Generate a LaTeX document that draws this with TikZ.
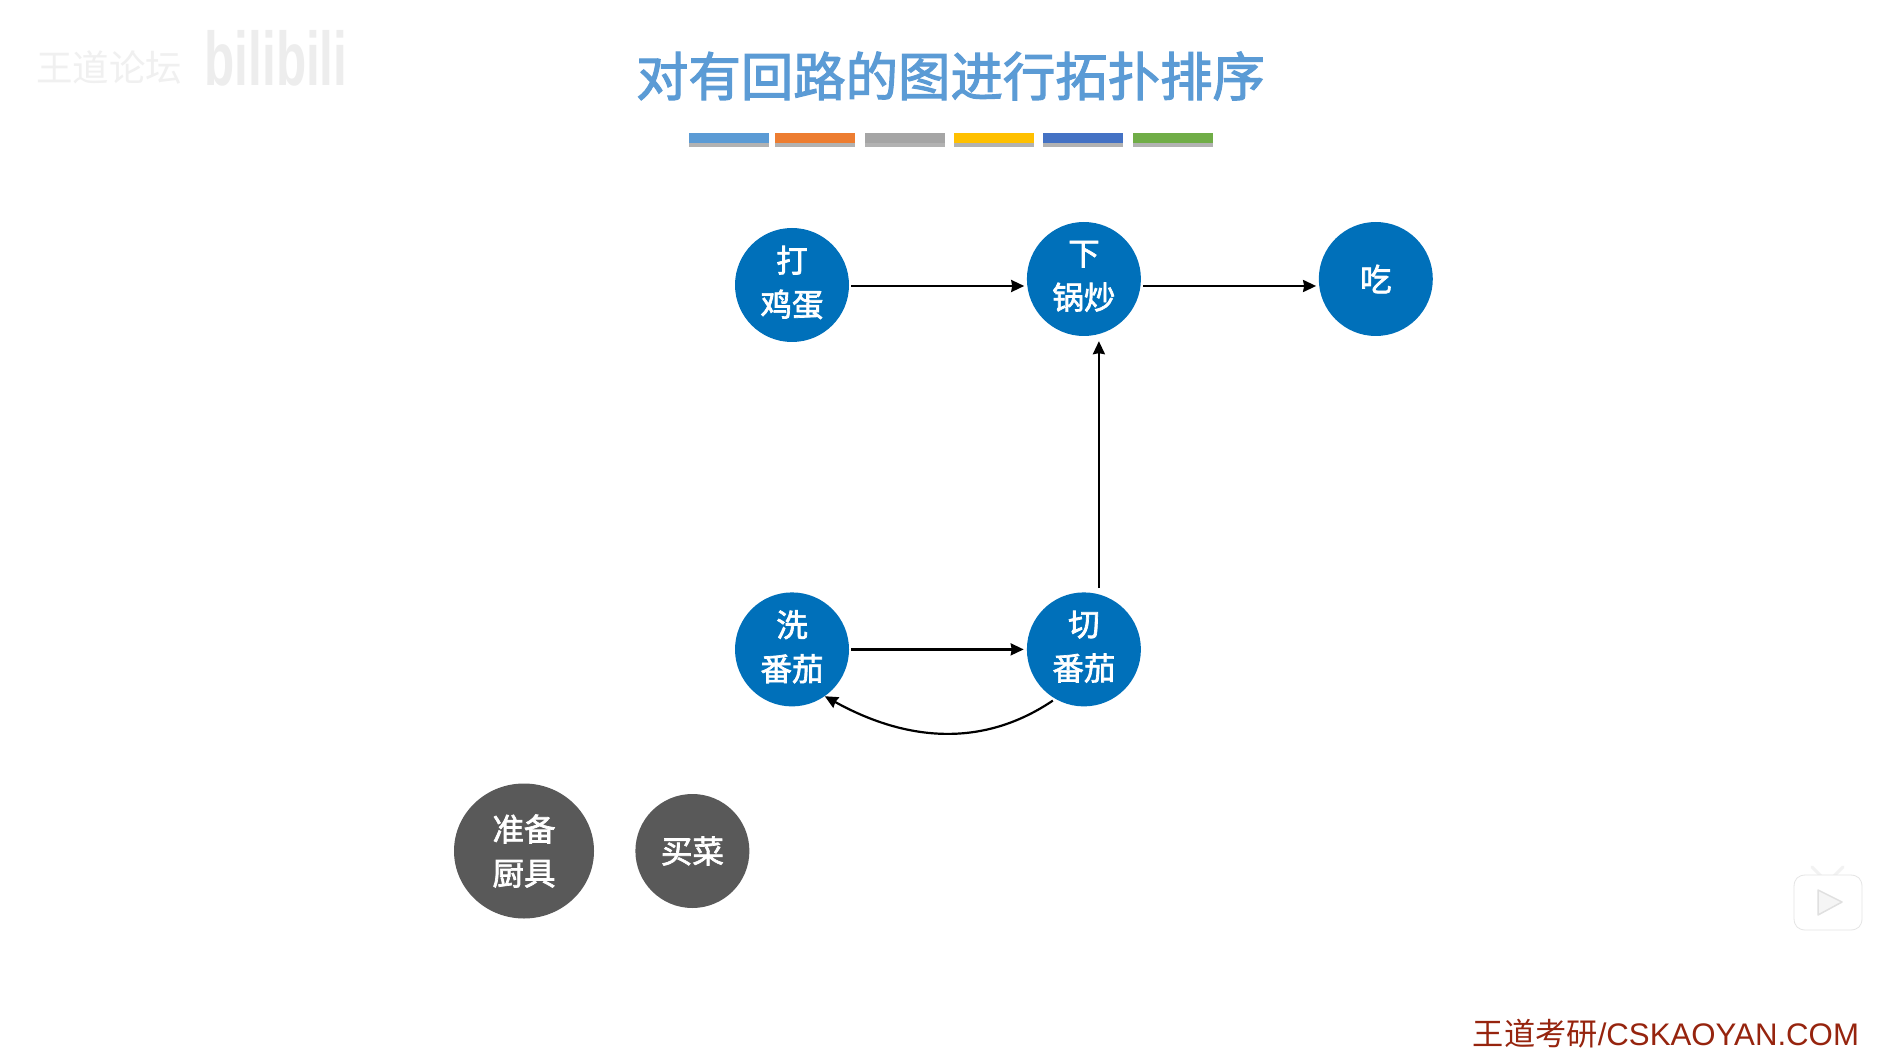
\documentclass[tikz,border=0pt]{standalone}
\usepackage{fontspec}
\setmainfont{Liberation Sans}
\newfontfamily\cjk{Noto Sans CJK SC}
\newfontfamily\cjkheavy[FakeBold=2.2]{Noto Sans CJK SC}
\usetikzlibrary{positioning, arrows.meta, shapes.geometric, shadows}
\definecolor{nodeblue}{HTML}{0070BA}
\definecolor{nodegrey}{HTML}{595959}
\definecolor{titleblue}{HTML}{5B9BD5}
\definecolor{footred}{HTML}{96240E}
\definecolor{bar1}{HTML}{5B9BD5}
\definecolor{bar2}{HTML}{ED7D31}
\definecolor{bar3}{HTML}{A5A5A5}
\definecolor{bar4}{HTML}{FFC000}
\definecolor{bar5}{HTML}{4472C4}
\definecolor{bar6}{HTML}{70AD47}
\tikzset{
    blue node/.style={circle, fill=nodeblue, text=white, minimum size=114pt, inner sep=0pt, align=center, font=\cjkheavy\fontsize{31.5}{44}\selectfont},
    grey node/.style={blue node, fill=nodegrey},
    edge/.style={draw=black, line width=2.2pt, -{Stealth[length=13pt, width=12pt, inset=1pt]}},
    bar/.style={minimum width=80pt, minimum height=10pt, inner sep=0pt, drop shadow={shadow xshift=0pt, shadow yshift=-4pt, fill=black, opacity=.3}},
}
\begin{document}
\begin{tikzpicture}[x=1pt, y=1pt]
            \useasboundingbox[fill=white] (0,0) rectangle (1895,-1056);
            \node[text=black!6, font=\cjk\fontsize{36.5}{36.5}\selectfont] (mark) at (109,-68) {王道论坛};
            \node[text=black!7, font=\bfseries\fontsize{76}{76}\selectfont, xscale=.65] (site) at (276,-58) {bilibili};
            \node[text=titleblue, font=\cjkheavy\fontsize{52.4}{56}\selectfont] (title) at (950.5,-76) {对有回路的图进行拓扑排序};
            \node[bar, fill=bar1] (b1) at (729,-138) {};
            \node[bar, fill=bar2, right=6pt of b1] (b2) {};
            \node[bar, fill=bar3, right=9pt of b2] (b3) {};
            \node[bar, fill=bar4, right=9pt of b3] (b4) {};
            \node[bar, fill=bar5, right=8pt of b4] (b5) {};
            \node[bar, fill=bar6, right=10pt of b5] (b6) {};
            \node[blue node, text depth=8pt] (dan) at (792,-285) {打\\鸡蛋};
            \node[blue node, text depth=8pt, right=177.5pt of dan, yshift=6pt] (xia) {下\\锅炒};
            \node[blue node, right=177.5pt of xia] (chi) {吃};
            \node[blue node, text depth=8pt, below=250pt of dan] (xi) {洗\\番茄};
            \node[blue node, text depth=8pt, right=177.5pt of xi] (qie) {切\\番茄};
            \node[grey node, ellipse, minimum width=140pt, minimum height=135pt] (ju) at (524,-851) {准备\\厨具};
            \node[grey node, right=41pt of ju] (cai) {买菜};
            \draw[edge, shorten <=2pt, shorten >=2.5pt] ([yshift=-1pt]dan.east) -- ([yshift=-1pt]dan.east -| xia.west);
            \draw[edge, shorten <=2pt, shorten >=2.5pt] ([yshift=-7pt]xia.east) -- ([yshift=-7pt]chi.west);
            \draw[edge, shorten <=4pt, shorten >=5pt] ([xshift=15pt]qie.north) -- ([xshift=15pt]xia.south);
            \draw[edge, shorten <=2pt, shorten >=3pt] (xi.east) -- (qie.west);
            \draw[edge, shorten <=3pt, shorten >=0pt] (qie.-120) to[out=-146, in=-29] (xi.-55);
            \node[text=footred, anchor=east, font=\fontsize{31.2}{31.2}\selectfont] (foot) at (1862.5,-1034) {{\cjk 王道考研}/CSKAOYAN.COM};
            \begin{scope}[draw=black!10, line width=0.8pt]
                \draw[fill=white, line cap=round, line width=3pt, draw=black!5] (1812,-867) -- (1821,-876) (1843,-867) -- (1834,-876);
                \draw[fill=white] (1806,-875) -- (1850,-875) .. controls (1858,-875) and (1862,-879) .. (1862,-887) -- (1862,-918) .. controls (1862,-926) and (1858,-930) .. (1850,-930) -- (1806,-930) .. controls (1798,-930) and (1794,-926) .. (1794,-918) -- (1794,-887) .. controls (1794,-879) and (1798,-875) .. (1806,-875) -- cycle;
                \draw[fill=black!4, line join=round, draw=black!12, line width=1.5pt] (1818,-890) -- (1842,-902) -- (1818,-915) -- cycle;
            \end{scope}
        \end{tikzpicture}
\end{document}
